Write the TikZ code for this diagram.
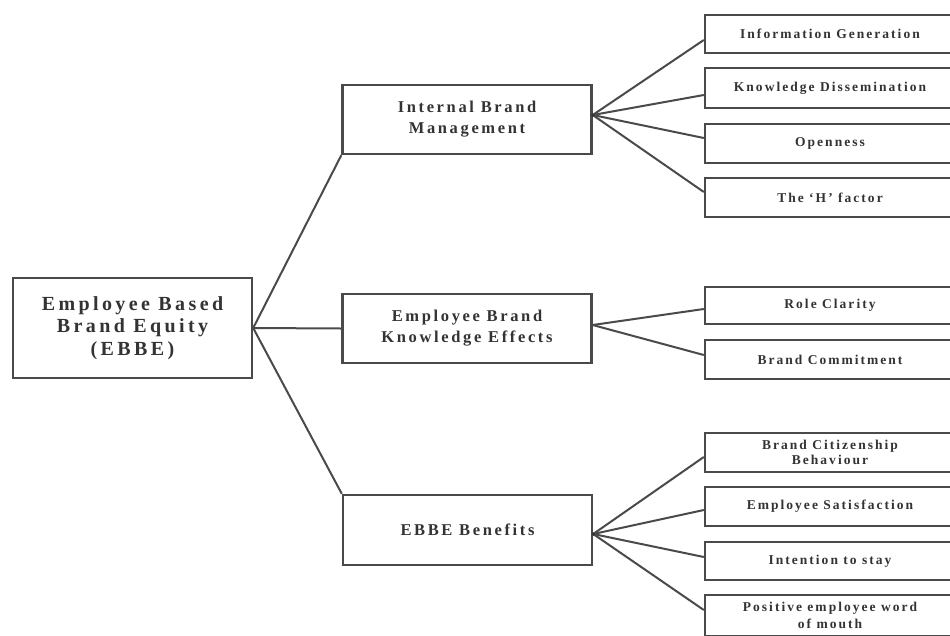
\documentclass[tikz,border=0pt]{standalone}
\usepackage{fontspec}
\setmainfont{Liberation Serif}
\newfontfamily\rootfont[LetterSpace=17]{Liberation Serif}
\newfontfamily\midfont[LetterSpace=16]{Liberation Serif}
\newfontfamily\leaffont[LetterSpace=15]{Liberation Serif}
\definecolor{inkline}{HTML}{4A4A4A}
\definecolor{inktext}{HTML}{333333}
\begin{document}
\begin{tikzpicture}[x=1pt,y=-1pt,
  box/.style={draw=inkline, line width=2.4pt, rectangle, inner sep=0pt, align=center, text=inktext},
  rootbox/.style={box, minimum width=239pt, minimum height=100pt, font=\rootfont\bfseries\fontsize{20}{22.5}\selectfont},
  midbox/.style={box, minimum width=249pt, minimum height=69pt, font=\midfont\bfseries\fontsize{16.5}{21}\selectfont},
  leafbox/.style={box, minimum width=250pt, font=\leaffont\bfseries\fontsize{13.5}{15.5}\selectfont},
  link/.style={draw=inkline, line width=2pt}]
\useasboundingbox (0,0) rectangle (950,635);
\clip (0,0) rectangle (950,635);
\fill[white] (0,0) rectangle (950,635);

% root
\node[rootbox] (ebbe) at (132.5,328) {Employee Based\\Brand Equity\\(EBBE)};

% second level
\node[midbox] (ibm) at (467,119.5) {Internal Brand\\Management};
\node[midbox] (ebke) at (467,328.5) {Employee Brand\\Knowledge Effects};
\node[midbox, minimum height=70pt] (ben) at (467.5,530) {EBBE Benefits};

% leaves: internal brand management
\node[leafbox, minimum height=38pt] (ig) at (830,34) {Information Generation};
\node[leafbox, minimum height=40pt] (kd) at (830,88) {Knowledge Dissemination};
\node[leafbox, minimum height=39pt] (op) at (830,143.5) {Openness};
\node[leafbox, minimum height=39pt] (hf) at (830,197.5) {The ‘H’ factor};

% leaves: knowledge effects
\node[leafbox, minimum height=37pt] (rc) at (830,305.5) {Role Clarity};
\node[leafbox, minimum height=39pt] (bc) at (830,359.5) {Brand Commitment};

% leaves: benefits
\node[leafbox, minimum height=39pt, font=\leaffont\bfseries\fontsize{13.5}{15}\selectfont] (cb) at (830,452.5) {Brand Citizenship\\Behaviour};
\node[leafbox, minimum height=39pt] (es) at (830,506.5) {Employee Satisfaction};
\node[leafbox, minimum height=38pt] (is) at (830,561) {Intention to stay};
\node[leafbox, minimum height=41pt, font=\leaffont\bfseries\fontsize{13.5}{17}\selectfont] (pw) at (830,615.5) {Positive employee word\\of mouth};

% root connectors
\draw[link] (ebbe.east) -- (ibm.south west);
\draw[link] (ebbe.east) -- (ebke.west);
\draw[link] (ebbe.east) -- (ben.north west);

% fans
\coordinate (fa) at ([yshift=4.5pt]ibm.east);
\coordinate (fb) at ([yshift=3.5pt]ebke.east);
\coordinate (fc) at ([yshift=-4pt]ben.east);

\draw[link] (fa) -- ([yshift=-6pt]ig.west);
\draw[link] (fa) -- ([yshift=-7pt]kd.west);
\draw[link] (fa) -- ([yshift=5.5pt]op.west);
\draw[link] (fa) -- ([yshift=5.5pt]hf.west);

\draw[link] (fb) -- ([yshift=-3.5pt]rc.west);
\draw[link] (fb) -- ([yshift=4.5pt]bc.west);

\draw[link] (fc) -- ([yshift=-4.5pt]cb.west);
\draw[link] (fc) -- ([yshift=-3.5pt]es.west);
\draw[link] (fc) -- ([yshift=4pt]is.west);
\draw[link] (fc) -- ([yshift=5.5pt]pw.west);

\fill[black!80] (fa) circle (1.8pt);
\fill[black!80] (fc) circle (1.8pt);
\end{tikzpicture}
\end{document}
